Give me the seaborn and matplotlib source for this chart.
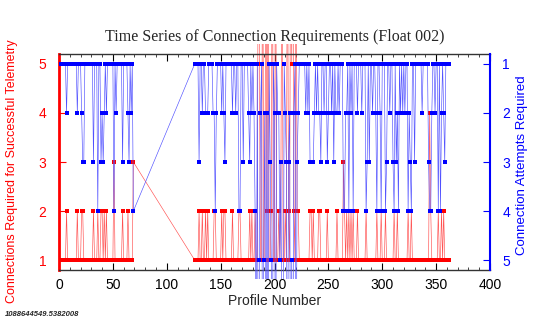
import matplotlib
matplotlib.use("Agg")
import matplotlib.pyplot as plt
import pandas as pd
import seaborn as sns
from matplotlib.transforms import Bbox, TransformedBbox
from matplotlib.ticker import MultipleLocator

# ---------------- data ----------------
profiles = list(range(1, 70)) + list(range(126, 363))

connections_required = [
    1,1,1,1,1,1,2,1,1,1, 1,1,1,1,1,1,2,1,1,1, 2,2,1,1,1,1,1,1,1,1,
    1,2,1,1,1,2,1,1,2,2, 1,2,1,2,1,1,1,1,1,1, 3,1,1,1,1,1,1,1,2,1,
    1,1,1,2,1,1,1,1,3,
    1,1,1,1,2,1,1,2,1,1, 2,1,2,1,1,1,1,1,2,2, 1,1,1,1,1,2,1,2,2,1,
    1,1,1,1,1,2,1,1,1,1, 1,2,2,1,1,1,1,1,1,1, 1,2,1,2,1,1,2,1,1,9,
    5,1,1,9,1,1,9,2,9,1, 1,2,9,1,1,9,1,1,2,1, 3,9,1,1,2,1,9,2,1,9,
    5,9,2,1,9,2,2,1,1,1, 1,1,1,1,1,1,1,2,2,1, 2,1,1,1,1,2,2,1,1,1,
    1,1,1,2,1,1,1,1,1,1, 1,1,2,1,1,1,1,1,3,2, 1,2,1,2,1,2,1,2,1,1,
    1,2,1,1,1,1,1,1,1,2, 1,1,1,1,1,1,1,1,1,2, 1,1,1,2,1,1,1,2,1,1,
    1,1,1,1,1,2,1,1,2,1, 1,1,1,1,1,1,1,1,2,1, 1,2,1,1,1,1,1,1,1,1,
    1,1,1,1,1,1,1,1,4,2, 1,1,1,1,1,1,2,1,1,2, 1,2,1,1,1,1,1,
]

attempts_required = [
    1,1,1,1,1,1,2,1,1,1, 1,1,1,1,1,1,2,1,1,1, 2,3,3,1,1,1,1,1,1,1,
    1,3,1,1,1,4,1,1,3,2, 3,2,1,2,1,1,1,1,1,1, 4,1,2,1,1,1,1,1,3,1,
    1,1,1,2,3,1,2,1,4,
    1,1,1,1,3,1,1,2,1,1, 2,2,2,1,1,1,1,2,2,4, 2,1,1,1,1,2,1,2,3,1,
    1,1,1,1,1,2,1,1,2,1, 1,4,4,1,1,3,1,1,1,1, 2,3,1,2,1,2,4,9,1,9,
    5,2,1,9,5,2,9,2,9,1, 3,5,9,1,2,9,1,2,2,5, 3,9,9,1,2,3,9,3,2,9,
    5,9,2,1,9,3,2,1,1,1, 1,1,1,2,1,2,1,3,3,3, 3,2,1,2,1,2,2,3,1,1,
    2,1,1,3,2,1,1,2,1,3, 1,2,2,1,2,1,1,1,4,4, 2,2,1,4,1,2,1,4,1,1,
    1,2,1,1,1,2,1,1,1,4, 3,1,3,1,1,2,1,1,2,4, 1,1,2,4,1,1,1,4,3,1,
    1,2,1,1,3,4,1,3,2,4, 1,2,1,2,1,2,1,1,4,2, 3,4,1,1,3,1,1,1,1,1,
    1,2,1,1,1,1,1,3,4,4, 2,1,1,2,1,1,4,1,4,2, 1,2,3,1,1,1,1,
]

x_ticks = [0, 50, 100, 150, 200, 250, 300, 350, 400]
y_ticks = [1, 2, 3, 4, 5]

title = "Time Series of Connection Requirements (Float 002)"
left_label = "Connections Required for Successful Telemetry"
right_label = "Connection Attempts Required"
x_label = "Profile Number"
stamp = "1088644549.5382008"

df = pd.DataFrame({"Profile": profiles,
                   "Connections": connections_required,
                   "Attempts": attempts_required})

# ---------------- style ----------------
sns.set_style("white")
plt.rcParams["font.family"] = ["Liberation Sans", "DejaVu Sans"]

fig = plt.figure(figsize=(5.45, 3.30), dpi=100)
ax = fig.add_axes([59 / 545, 60 / 330, 431 / 545, 216 / 330])
ax2 = ax.twinx()

RED = "#ff0000"
BLUE = "#0000ff"

line_kw = dict(lw=0.45, marker="s", markersize=2.3, markeredgewidth=0,
               sort=False, estimator=None)
sns.lineplot(data=df, x="Profile", y="Connections", ax=ax, color="#ff5050",
             markerfacecolor=RED, **line_kw)
sns.lineplot(data=df, x="Profile", y="Attempts", ax=ax2, color="#5050ff",
             markerfacecolor=BLUE, **line_kw)

ax.set_xlim(0, 400)
ax.set_ylim(0.8, 5.2)
ax2.set_ylim(5.2, 0.8)

# let off-scale values run a little past the frame, as in the original
for line in ax.lines:
    line.set_clip_path(None)
    line.set_clip_box(TransformedBbox(Bbox([[0, 0], [1, 1.045]]), ax.transAxes))
for line in ax2.lines:
    line.set_clip_path(None)
    line.set_clip_box(TransformedBbox(Bbox([[0, -0.04], [1, 1]]), ax2.transAxes))

ax.set_xticks(x_ticks)
ax.set_xticklabels([str(t) for t in x_ticks], fontsize=10)
ax.xaxis.set_minor_locator(MultipleLocator(10))
ax.tick_params(axis="x", which="major", direction="in", length=5, width=0.8,
               top=True, bottom=True, pad=6, colors="black")
ax.tick_params(axis="x", which="minor", direction="in", length=2.5, width=0.6,
               top=True, bottom=True)

ax.set_yticks(y_ticks)
ax.set_yticklabels([str(t) for t in y_ticks], fontsize=10, color=RED)
ax.tick_params(axis="y", direction="in", length=5, colors=RED, pad=9)
ax2.set_yticks(y_ticks)
ax2.set_yticklabels([str(t) for t in y_ticks], fontsize=10, color=BLUE)
ax2.tick_params(axis="y", direction="in", length=5, colors=BLUE, pad=9)

ax.set_xlabel(x_label, fontsize=10, labelpad=1)
ax.set_ylabel("")
ax2.set_ylabel("")

for s in ["top", "bottom"]:
    ax.spines[s].set_color("#333333")
    ax.spines[s].set_linewidth(1.0)
    ax2.spines[s].set_visible(False)
ax.spines["left"].set_color(RED)
ax.spines["left"].set_linewidth(2.0)
ax.spines["right"].set_visible(False)
ax2.spines["left"].set_visible(False)
ax2.spines["right"].set_color(BLUE)
ax2.spines["right"].set_linewidth(1.5)

fig.text(275 / 545, 1 - 37 / 330, title, ha="center", va="center",
         fontsize=11.5, family=["Liberation Serif", "DejaVu Serif"])
fig.text(12 / 545, 1 - 171 / 330, left_label, rotation=90, ha="center",
         va="center", fontsize=9, color=RED)
fig.text(522 / 545, 1 - 165 / 330, right_label, rotation=90, ha="center",
         va="center", fontsize=9.5, color=BLUE)
fig.text(5 / 545, 1 - 314 / 330, stamp, ha="left", va="center",
         fontsize=5.5, style="italic", weight="bold")

fig.savefig("out.png", dpi=100, facecolor="white")
